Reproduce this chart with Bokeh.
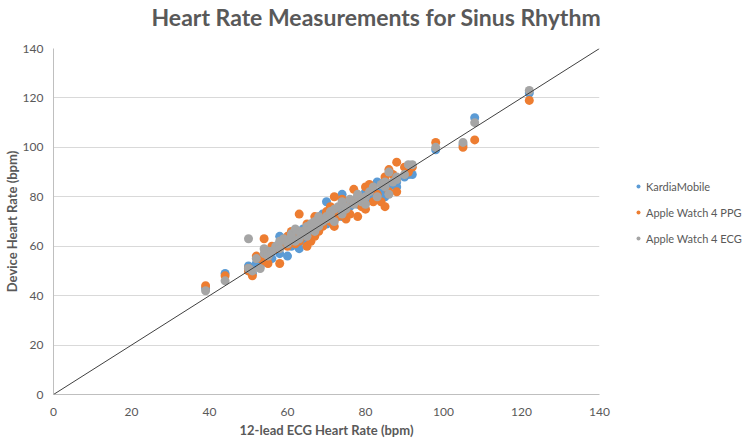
from bokeh.plotting import figure
from bokeh.layouts import row
from bokeh.models import Slope, Legend, LegendItem, Range1d, Title
from bokeh.embed import file_html
from bokeh.resources import INLINE

# 12-lead ECG reference heart rate (bpm) per recording
ecg = [39, 44, 50, 50, 51, 52, 53, 54, 54, 55, 55, 56, 57, 58, 58, 59, 60, 60,
       61, 61, 62, 62, 63, 63, 64, 64, 65, 65, 66, 66, 67, 67, 68, 68, 69, 70,
       70, 71, 71, 72, 72, 73, 74, 74, 75, 75, 76, 77, 78, 78, 79, 80, 80, 81,
       82, 83, 84, 85, 85, 86, 86, 87, 88, 88, 90, 91, 92, 98, 105, 108, 122]

kardia = [43, 49, 52, 50, 49, 53, 52, 56, 55, 55, 57, 55, 60, 64, 57, 61, 56, 62,
          60, 64, 63, 66, 59, 64, 62, 67, 64, 66, 65, 69, 70, 66, 68, 71, 73, 78,
          69, 72, 70, 73, 71, 75, 81, 72, 74, 77, 76, 78, 80, 77, 79, 82, 78, 80,
          83, 86, 82, 86, 80, 82, 84, 85, 86, 84, 88, 89, 89, 99, 101, 112, 122]

ppg = [44, 48, 51, 50, 48, 56, 55, 63, 54, 56, 53, 60, 59, 53, 60, 62, 60, 64,
       63, 66, 61, 65, 73, 62, 66, 64, 60, 69, 68, 62, 72, 64, 70, 66, 68, 74,
       73, 70, 76, 80, 68, 72, 77, 79, 71, 78, 73, 83, 72, 79, 76, 84, 75, 85,
       78, 81, 78, 76, 88, 91, 82, 89, 94, 82, 92, 90, 92, 102, 100, 103, 119]

aw_ecg = [42, 46, 63, 51, 50, 55, 51, 57, 59, 58, 56, 58, 60, 62, 59, 63, 62, 61,
          64, 65, 62, 67, 66, 63, 65, 66, 68, 64, 69, 67, 66, 70, 72, 68, 70, 72,
          71, 74, 73, 75, 70, 76, 73, 78, 76, 75, 79, 77, 80, 81, 78, 80, 77, 82,
          84, 80, 85, 84, 86, 90, 81, 86, 88, 87, 89, 93, 93, 100, 102, 110, 123]

series_names = ["KardiaMobile", "Apple Watch 4 PPG", "Apple Watch 4 ECG"]
series_colors = ["#5B9BD5", "#ED7D31", "#A5A5A5"]
series_values = [kardia, ppg, aw_ecg]
axis_ticks = [0, 20, 40, 60, 80, 100, 120, 140]
chart_title = "Heart Rate Measurements for Sinus Rhythm"

TEXT = "#595959"
FONT = "Lato"

# ---- main scatter figure ----
p = figure(frame_width=546, frame_height=346, output_backend="svg",
           toolbar_location=None, title=None,
           x_range=Range1d(0, 140), y_range=Range1d(0, 140),
           min_border_left=52, min_border_right=12, min_border_top=47,
           min_border_bottom=36)

# spacer (nearest the frame) then the real title above it
p.add_layout(Title(text=" ", text_font_size="5px", text_color="white"), "above")
p.add_layout(Title(text=chart_title, text_font=FONT, text_font_size="23px",
                   text_font_style="bold", text_color=TEXT, align="left",
                   offset=98, standoff=0), "above")

p.outline_line_color = None
p.background_fill_color = "white"
p.border_fill_color = "white"

p.xgrid.visible = False
p.ygrid.grid_line_color = "#D9D9D9"
p.ygrid.grid_line_width = 1

for ax in (p.xaxis[0], p.yaxis[0]):
    ax.ticker = axis_ticks
    ax.major_tick_line_color = None
    ax.minor_tick_line_color = None
    ax.axis_line_color = "#BFBFBF"
    ax.major_label_text_font = FONT
    ax.major_label_text_font_size = "12px"
    ax.major_label_text_color = TEXT
    ax.axis_label_text_font = FONT
    ax.axis_label_text_font_size = "13px"
    ax.axis_label_text_font_style = "bold"
    ax.axis_label_text_color = TEXT

p.xaxis.axis_label = "12-lead ECG Heart Rate (bpm)"
p.yaxis.axis_label = "Device Heart Rate (bpm)"
p.xaxis.major_label_standoff = 7
p.xaxis.axis_label_standoff = 3
p.yaxis.major_label_standoff = 4
p.yaxis.axis_label_standoff = 0

p.add_layout(Slope(gradient=1, y_intercept=0, line_color="#404040", line_width=1))

for color, vals in zip(series_colors, series_values):
    p.scatter(ecg, vals, size=9, fill_color=color, line_color=None)

# ---- legend panel (separate figure to the right) ----
LEG_H = 433
lp = figure(width=137, height=LEG_H, output_backend="svg", toolbar_location=None,
            x_axis_location=None, y_axis_location=None,
            x_range=Range1d(0, 1), y_range=Range1d(0, 1),
            min_border=0)
lp.outline_line_color = None
lp.grid.visible = False
lp.background_fill_color = "white"
lp.border_fill_color = "white"

items = []
for name, color, vals in zip(series_names, series_colors, series_values):
    # same series, outside this panel's view: only its legend swatch shows
    r = lp.scatter(ecg, vals, size=9, fill_color=color, line_color=None)
    items.append(LegendItem(label=name, renderers=[r]))

legend = Legend(items=items, location=(22, 139), padding=0, margin=0,
                spacing=6, glyph_width=10, glyph_height=20, label_height=20,
                label_standoff=3, border_line_color=None,
                background_fill_alpha=0,
                label_text_font=FONT, label_text_font_size="11px",
                label_text_color=TEXT)
lp.add_layout(legend)

layout = row(p, lp)
open("out.html", "w").write(file_html(layout, INLINE))
